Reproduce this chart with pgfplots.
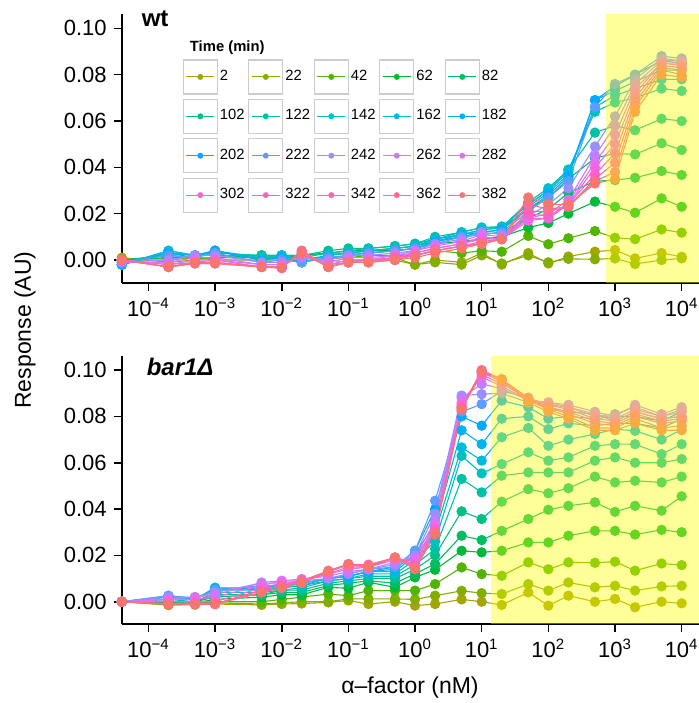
\documentclass[border=0pt]{standalone}
\usepackage{fontspec}
\setmainfont{Liberation Sans}
\usepackage{pgfplots}
\usepackage{pgfplotstable}
\pgfplotsset{compat=1.18}
\pgfplotsset{layers/mylayers/.define layer set={axis background,axis grid,pre main,main,highlight,axis ticks,axis lines,axis tick labels,axis descriptions,axis foreground}{}}

\definecolor{c1}{HTML}{A3A500}
\definecolor{c2}{HTML}{83AD00}
\definecolor{c3}{HTML}{52B400}
\definecolor{c4}{HTML}{00B93A}
\definecolor{c5}{HTML}{00BD5F}
\definecolor{c6}{HTML}{00C085}
\definecolor{c7}{HTML}{00C1A5}
\definecolor{c8}{HTML}{00C0C0}
\definecolor{c9}{HTML}{00BBDA}
\definecolor{c10}{HTML}{00B4EF}
\definecolor{c11}{HTML}{00ABFD}
\definecolor{c12}{HTML}{5F9CFF}
\definecolor{c13}{HTML}{9A8FFF}
\definecolor{c14}{HTML}{C57DFF}
\definecolor{c15}{HTML}{E170F5}
\definecolor{c16}{HTML}{F366E5}
\definecolor{c17}{HTML}{FE61CB}
\definecolor{c18}{HTML}{FF64B0}
\definecolor{c19}{HTML}{FD6D96}
\definecolor{c20}{HTML}{F8766D}
\definecolor{hl}{HTML}{FFFF00}

\newcommand{\ex}[1]{10\textsuperscript{\fontsize{7.5}{8}\selectfont #1}}

\pgfplotstableread{
x s1 s2 s3 s4 s5 s6 s7 s8 s9 s10 s11 s12 s13 s14 s15 s16 s17 s18 s19 s20
4e-5 0.001 0.000 0.000 0.000 0.000 -0.001 -0.001 -0.002 -0.002 -0.002 -0.002 -0.001 -0.001 -0.001 0.000 0.000 0.000 0.000 0.000 0.000
2e-4 -0.001 0.000 0.001 0.001 0.002 0.003 0.003 0.004 0.004 0.003 0.003 0.002 0.000 -0.001 -0.002 -0.002 -0.003 -0.003 -0.003 -0.003
5e-4 0.000 0.001 0.001 0.001 0.001 0.002 0.002 0.002 0.002 0.002 0.001 0.001 0.002 0.001 0.000 -0.001 -0.001 -0.0015 -0.0015 -0.001
1e-3 0.001 0.000 0.001 0.001 0.001 0.002 0.003 0.004 0.004 0.004 0.004 0.003 0.002 0.001 0.000 0.000 -0.001 -0.0015 -0.0015 -0.001
5e-3 0.001 0.000 0.001 0.002 0.002 0.002 0.002 0.001 0.000 0.000 0.000 -0.001 -0.001 -0.002 -0.002 -0.003 -0.003 -0.003 -0.003 -0.003
0.01 0.001 0.000 0.001 0.001 0.002 0.002 0.002 0.002 0.002 0.001 0.001 0.000 -0.001 -0.002 -0.002 -0.003 -0.003 -0.0035 -0.0035 -0.003
0.02 0.001 0.001 0.001 0.002 0.002 0.002 0.001 0.000 -0.001 -0.001 -0.001 -0.001 0.001 0.002 0.002 0.003 0.003 0.004 0.004 0.003
0.05 0.001 0.000 0.001 0.003 0.003 0.004 0.003 0.002 0.002 0.002 0.001 0.001 0.000 -0.001 -0.002 -0.002 -0.003 -0.003 -0.003 -0.003
0.1 0.000 -0.001 0.001 0.003 0.004 0.005 0.004 0.003 0.003 0.003 0.002 0.002 0.002 0.001 0.000 -0.001 -0.001 -0.001 -0.001 -0.001
0.2 0.000 0.000 0.002 0.004 0.004 0.005 0.005 0.004 0.004 0.003 0.003 0.003 0.002 0.001 0.000 0.000 -0.001 -0.001 -0.001 -0.001
0.5 0.001 0.000 0.002 0.004 0.005 0.006 0.006 0.005 0.005 0.004 0.004 0.004 0.003 0.002 0.002 0.001 0.001 0.001 0.000 0.000
1 -0.002 -0.002 0.002 0.005 0.006 0.007 0.007 0.006 0.006 0.005 0.005 0.005 0.004 0.004 0.003 0.003 0.002 0.002 0.002 0.001
2 0.000 -0.001 0.004 0.007 0.008 0.009 0.010 0.009 0.009 0.008 0.008 0.007 0.007 0.006 0.005 0.005 0.004 0.004 0.004 0.003
5 -0.001 -0.002 0.003 0.008 0.010 0.011 0.012 0.012 0.011 0.011 0.010 0.010 0.009 0.008 0.007 0.007 0.006 0.006 0.006 0.005
10 0.003 0.002 0.004 0.009 0.011 0.013 0.014 0.014 0.013 0.012 0.012 0.011 0.012 0.011 0.010 0.009 0.008 0.007 0.007 0.007
20 -0.002 -0.0015 0.0036 0.010 0.012 0.014 0.0145 0.014 0.014 0.013 0.013 0.012 0.011 0.010 0.009 0.009 0.009 0.009 0.009 0.009
50 0.003 0.002 0.0104 0.014 0.018 0.022 0.024 0.025 0.024 0.023 0.022 0.021 0.019 0.018 0.017 0.018 0.020 0.021 0.024 0.027
100 -0.0015 -0.001 0.0068 0.016 0.022 0.027 0.030 0.031 0.030 0.029 0.028 0.027 0.024 0.020 0.018 0.018 0.019 0.021 0.022 0.024
200 0.0015 0.0005 0.0094 0.020 0.029 0.035 0.039 0.039 0.038 0.037 0.036 0.034 0.031 0.026 0.025 0.024 0.024 0.023 0.023 0.024
500 0.0036 0.0003 0.0125 0.0252 0.034 0.044 0.055 0.064 0.066 0.069 0.069 0.066 0.049 0.045 0.042 0.040 0.037 0.035 0.034 0.033
1000 0.0043 0.0007 0.0096 0.023 0.0345 0.046 0.058 0.068 0.071 0.073 0.075 0.076 0.062 0.058 0.054 0.050 0.046 0.042 0.038 0.035
2000 0.0007 -0.0017 0.009 0.0204 0.0355 0.0456 0.056 0.070 0.074 0.077 0.080 0.080 0.078 0.076 0.074 0.072 0.070 0.068 0.066 0.064
5000 0.003 0.000 0.0132 0.0266 0.0384 0.0504 0.061 0.074 0.078 0.082 0.086 0.088 0.087 0.086 0.085 0.085 0.084 0.083 0.082 0.080
10000 0.0014 0.0007 0.0118 0.023 0.0367 0.0475 0.060 0.073 0.078 0.082 0.085 0.087 0.086 0.086 0.085 0.084 0.083 0.082 0.080 0.079
}\topdata

\pgfplotstableread{
x s1 s2 s3 s4 s5 s6 s7 s8 s9 s10 s11 s12 s13 s14 s15 s16 s17 s18 s19 s20
4e-5 0 0 0 0 0 0 0 0 0 0 0 0 0 0 0 0 0 0 0 0
2e-4 -0.0015 -0.0012 -0.001 -0.0008 -0.0005 0.000 0.001 0.001 0.002 0.002 0.0025 0.0026 0.002 0.001 0.001 0.000 -0.001 -0.001 -0.001 -0.001
5e-4 -0.0013 -0.001 -0.0008 -0.0005 0.000 0.000 0.000 0.001 0.001 0.001 0.0015 0.0015 0.002 0.002 0.001 0.000 -0.0005 -0.001 -0.001 -0.001
1e-3 -0.001 -0.0005 0.000 0.001 0.002 0.003 0.004 0.005 0.006 0.006 0.005 0.005 0.004 0.003 0.002 0.000 -0.001 -0.001 -0.001 -0.001
5e-3 -0.0014 -0.001 0.000 0.002 0.003 0.003 0.004 0.005 0.005 0.006 0.006 0.007 0.008 0.0083 0.007 0.006 0.005 0.005 0.004 0.004
0.01 -0.001 -0.0005 0.001 0.003 0.004 0.005 0.005 0.006 0.006 0.007 0.007 0.007 0.008 0.009 0.009 0.008 0.007 0.007 0.006 0.006
0.02 -0.0008 0.000 0.002 0.003 0.004 0.005 0.006 0.007 0.007 0.008 0.008 0.008 0.009 0.0098 0.009 0.009 0.009 0.009 0.009 0.008
0.05 -0.0003 0.000 0.0033 0.0062 0.007 0.008 0.009 0.009 0.010 0.010 0.010 0.010 0.010 0.011 0.012 0.012 0.013 0.013 0.0134 0.013
0.1 0.0005 0.0012 0.0026 0.0058 0.008 0.009 0.010 0.010 0.011 0.011 0.011 0.012 0.012 0.013 0.014 0.015 0.016 0.016 0.0163 0.016
0.2 -0.001 0.0012 0.0048 0.0084 0.009 0.010 0.011 0.012 0.013 0.013 0.013 0.014 0.014 0.014 0.015 0.015 0.015 0.016 0.0155 0.015
0.5 0.000 0.0012 0.0048 0.0062 0.008 0.010 0.011 0.012 0.013 0.014 0.015 0.015 0.016 0.017 0.018 0.019 0.019 0.019 0.0191 0.019
1 -0.0017 0.001 0.0048 0.0105 0.012 0.014 0.016 0.018 0.020 0.021 0.022 0.022 0.020 0.019 0.018 0.017 0.016 0.015 0.015 0.014
2 -0.001 0.0026 0.0076 0.0138 0.0163 0.020 0.0227 0.026 0.030 0.033 0.040 0.0436 0.038 0.035 0.033 0.032 0.031 0.030 0.030 0.029
5 0.001 0.0047 0.0148 0.022 0.0285 0.039 0.053 0.063 0.0666 0.074 0.080 0.082 0.089 0.088 0.086 0.085 0.084 0.084 0.083 0.083
10 0.000 0.0037 0.0119 0.0213 0.0266 0.0357 0.0472 0.0554 0.0609 0.068 0.076 0.0853 0.0896 0.094 0.097 0.098 0.099 0.0997 0.100 0.099
20 -0.0014 0.0033 0.0112 0.022 0.0306 0.0432 0.0544 0.0594 0.071 0.079 0.0868 0.091 0.090 0.092 0.093 0.094 0.095 0.096 0.096 0.096
50 0.004 0.0076 0.017 0.0256 0.0357 0.0486 0.0558 0.0645 0.075 0.080 0.084 0.088 0.086 0.087 0.087 0.088 0.087 0.088 0.087 0.086
100 -0.0017 0.0048 0.014 0.0256 0.0397 0.0468 0.0558 0.0609 0.0673 0.0745 0.079 0.083 0.085 0.086 0.086 0.085 0.084 0.084 0.083 0.082
200 0.0026 0.0083 0.017 0.0285 0.0414 0.049 0.0558 0.0623 0.070 0.077 0.080 0.082 0.084 0.085 0.084 0.083 0.082 0.081 0.080 0.079
500 0.000 0.0062 0.0168 0.0306 0.0429 0.054 0.0609 0.0673 0.0724 0.076 0.079 0.081 0.080 0.082 0.081 0.079 0.078 0.077 0.075 0.074
1000 0.0012 0.0069 0.0173 0.0306 0.0388 0.0515 0.0623 0.068 0.0745 0.077 0.080 0.078 0.081 0.080 0.079 0.078 0.077 0.076 0.075 0.074
2000 -0.0024 0.0048 0.0134 0.029 0.0414 0.0522 0.060 0.068 0.0738 0.077 0.080 0.082 0.084 0.085 0.083 0.082 0.081 0.080 0.079 0.077
5000 0.000 0.0066 0.0165 0.031 0.0393 0.0515 0.060 0.0637 0.070 0.075 0.078 0.079 0.080 0.081 0.080 0.079 0.078 0.077 0.075 0.074
10000 -0.0007 0.0069 0.0158 0.030 0.0455 0.054 0.0616 0.068 0.0743 0.0789 0.082 0.080 0.083 0.084 0.082 0.080 0.079 0.078 0.076 0.074
}\botdata

\begin{document}
\begin{tikzpicture}
\begin{axis}[name=top, anchor=north west, at={(0pt,0pt)},
    set layers=mylayers,
    scale only axis, width=288.65pt, height=134.35pt,
    xmode=log, xmin=3.98e-5, xmax=18200, ymin=-0.0098, ymax=0.1062,
    axis x line=bottom, axis y line=left,
    axis line style={-, line width=1pt, black},
    tick align=outside, major tick length=4pt,
    major tick style={black, line width=0.8pt},
    xminorticks=false, yminorticks=false,
    xtick={1e-4,1e-3,1e-2,1e-1,1,10,100,1000,10000},
    xticklabels={\ex{−4},\ex{−3},\ex{−2},\ex{−1},\ex{0},\ex{1},\ex{2},\ex{3},\ex{4}},
    ytick={0,0.02,0.04,0.06,0.08,0.1},
    yticklabels={0.00,0.02,0.04,0.06,0.08,0.10},
    tick label style={font=\fontsize{11}{13}\selectfont},
    every axis plot/.append style={line width=0.55pt, mark=*, mark size=2.3pt},
    legend columns=5,
    legend entries={2,22,42,62,82,102,122,142,162,182,202,222,242,262,282,302,322,342,362,382},
    legend cell align=left,
    legend image code/.code={
      \draw[black!20, line width=0.6pt, fill=white, solid] (0pt,-8.5pt) rectangle (17pt,8.5pt);
      \draw[mark repeat=2, mark phase=2, #1, mark size=1.2pt] plot coordinates {(1.5pt,0pt) (8.5pt,0pt) (15.5pt,0pt)};
    },
    legend style={at={(axis description cs:0.1057,0.8314)}, anchor=north west,
      draw=none, fill=none, inner sep=0pt, outer sep=0pt,
      font=\fontsize{7.4}{8}\selectfont, row sep=2.1pt,
      nodes={inner sep=0pt},
      /tikz/every odd column/.append style={column sep=1pt},
      /tikz/every even column/.append style={column sep=1.8pt}},
]
\pgfplotsinvokeforeach{1,...,20}{\addplot[c#1] table[x=x,y=s#1]{\topdata};}
\addplot[forget plot, on layer=highlight, draw=none, mark=none, fill=hl, fill opacity=0.4]
  coordinates {(733,-0.0098) (18200,-0.0098) (18200,0.1062) (733,0.1062)} --cycle;
\end{axis}

\begin{axis}[name=bot, anchor=north west, at={(0pt,-170.85pt)},
    set layers=mylayers,
    scale only axis, width=288.65pt, height=134.35pt,
    xmode=log, xmin=3.98e-5, xmax=18200, ymin=-0.0098, ymax=0.1062,
    axis x line=bottom, axis y line=left,
    axis line style={-, line width=1pt, black},
    tick align=outside, major tick length=4pt,
    major tick style={black, line width=0.8pt},
    xminorticks=false, yminorticks=false,
    xtick={1e-4,1e-3,1e-2,1e-1,1,10,100,1000,10000},
    xticklabels={\ex{−4},\ex{−3},\ex{−2},\ex{−1},\ex{0},\ex{1},\ex{2},\ex{3},\ex{4}},
    ytick={0,0.02,0.04,0.06,0.08,0.1},
    yticklabels={0.00,0.02,0.04,0.06,0.08,0.10},
    tick label style={font=\fontsize{11}{13}\selectfont},
    every axis plot/.append style={line width=0.55pt, mark=*, mark size=2.3pt},
]
\pgfplotsinvokeforeach{1,...,20}{\addplot[c#1] table[x=x,y=s#1]{\botdata};}
\addplot[forget plot, on layer=highlight, draw=none, mark=none, fill=hl, fill opacity=0.4]
  coordinates {(14,-0.0098) (18200,-0.0098) (18200,0.1062) (14,0.1062)} --cycle;
\end{axis}

\node[anchor=base west, font=\fontsize{12}{14}\selectfont\bfseries] at (6.5pt,-6pt) {wt};
\node[anchor=base west, font=\fontsize{12}{14}\selectfont\bfseries\itshape] at (9pt,-180.5pt) {bar1Δ};
\node[anchor=base west, font=\fontsize{7.4}{8}\selectfont\bfseries] at (30.6pt,-18.5pt) {Time (min)};
\node[rotate=90, font=\fontsize{11.5}{13}\selectfont] at (-48.35pt,-158pt) {Response (AU)};
\node[font=\fontsize{11.5}{13}\selectfont] at (144.15pt,-337pt) {α–factor (nM)};

\pgfresetboundingbox
\path (-60.85pt,7pt) rectangle (288.65pt,-344.5pt);
\end{tikzpicture}
\end{document}
